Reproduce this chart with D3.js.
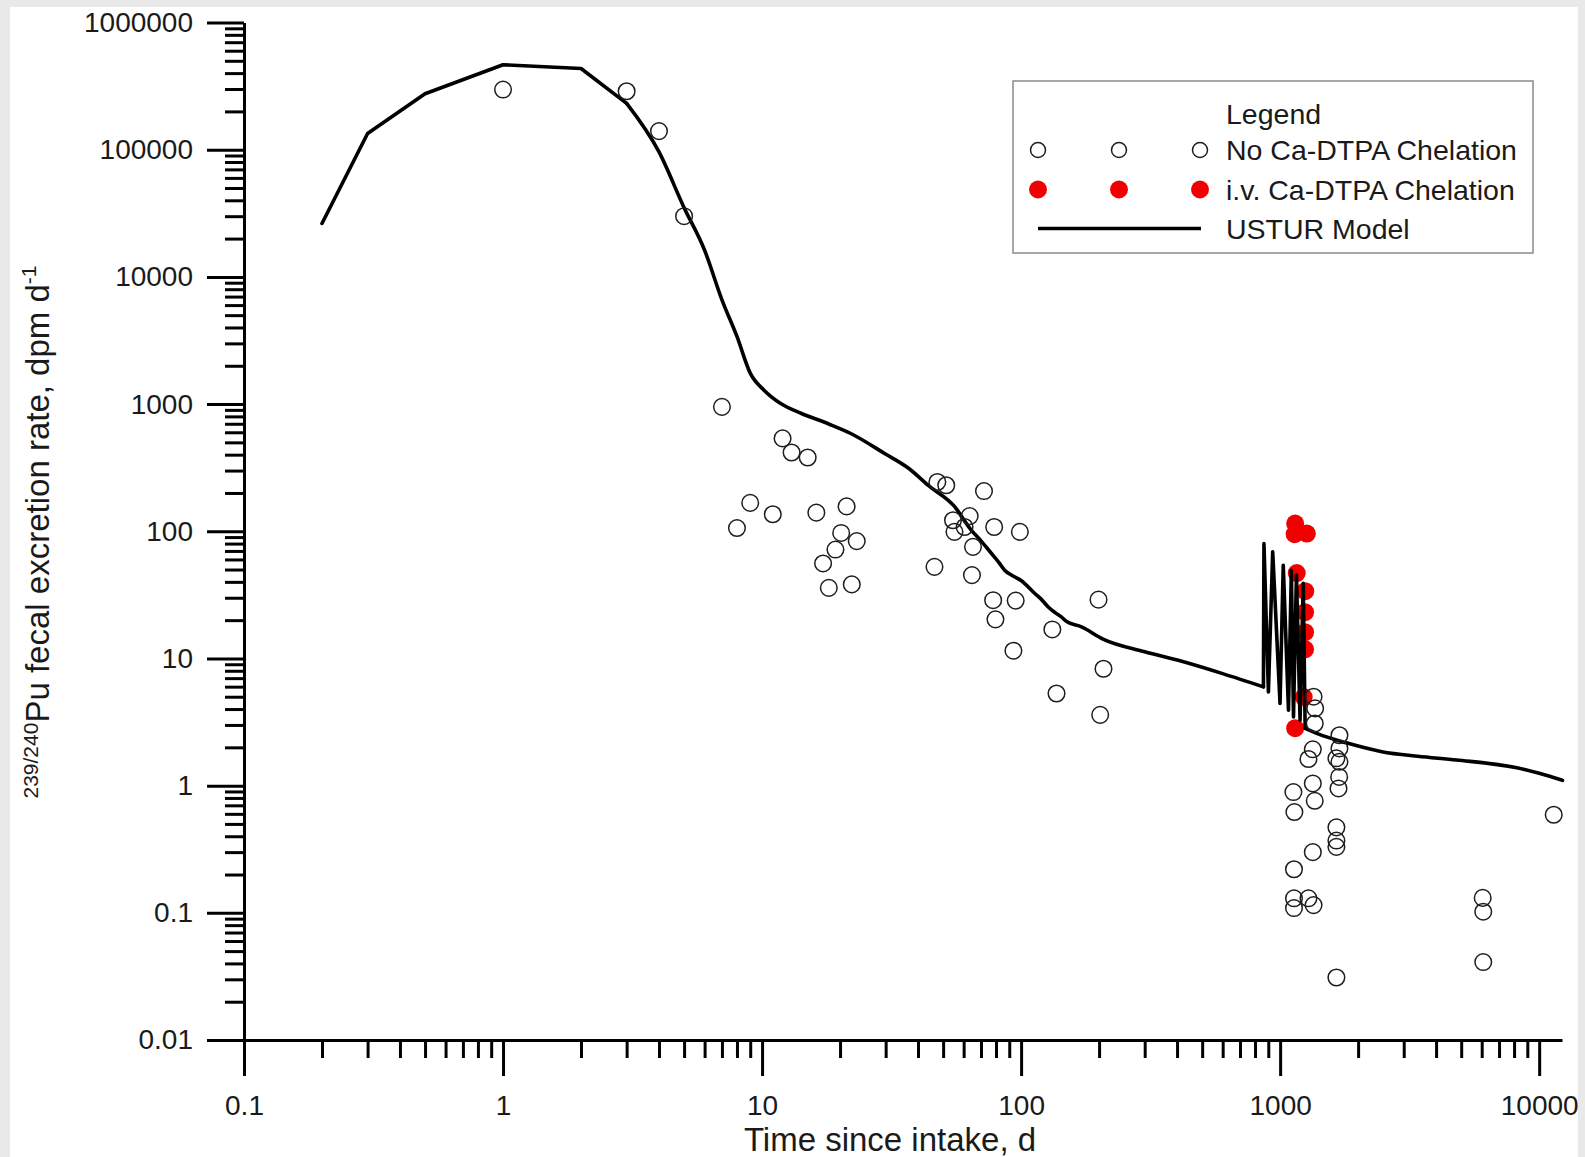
<!DOCTYPE html>
<html><head><meta charset="utf-8">
<script src="https://cdn.jsdelivr.net/npm/d3@7"></script>
<style>
html,body{margin:0;padding:0;background:#e9e9e9;}
svg{display:block;}
text{font-family:"Liberation Sans",Arial,Helvetica,sans-serif;fill:#1a1a1a;}
</style></head><body>
<svg id="c" width="1585" height="1157"></svg>
<script>
// ---------- data ----------
const xMajorTicks = [0.1, 1, 10, 100, 1000, 10000];
const xTickLabels = ["0.1", "1", "10", "100", "1000", "10000"];
const yMajorTicks = [0.01, 0.1, 1, 10, 100, 1000, 10000, 100000, 1000000];
const yTickLabels = ["0.01", "0.1", "1", "10", "100", "1000", "10000", "100000", "1000000"];

const xTitle = "Time since intake, d";
const yTitleSup = "239/240";
const yTitleMain = "Pu fecal excretion rate, dpm d";
const yTitleExp = "-1";

const legendTitle = "Legend";
const legendLabels = ["No Ca-DTPA Chelation", "i.v. Ca-DTPA Chelation", "USTUR Model"];

// No Ca-DTPA chelation (open circles)
const noChelT = [1, 3, 4, 5, 7, 8, 9, 11, 12, 13, 15, 16.2, 17.2, 18.1, 19.2, 20.2, 21.2, 22.2, 23.2,
  46.3, 47.5, 51.4, 54.6, 55.3, 60.5, 63.3, 64.6, 65.2, 71.9, 78, 78.7, 79.6, 93.4, 95.3, 98.9,
  132, 137, 199, 208, 202,
  1346, 1365, 1360, 1694, 1694, 1337, 1286, 1649, 1694, 1690, 1680, 1337, 1360, 1125, 1135,
  1649, 1649, 1649, 1337, 1131, 1131, 1286, 1131, 1346, 1649,
  6053, 6083, 6083, 11380];
const noChelV = [2.97e5, 2.88e5, 1.40e5, 3.0e4, 951, 106, 167, 136, 537, 416, 380, 140, 55.8, 35.9, 71.8, 97, 157, 38.2, 83.7,
  52.5, 244, 230, 122, 98.9, 108, 131.5, 45.2, 75.4, 207, 28.7, 108, 20.3, 11.5, 28.5, 98.9,
  16.9, 5.3, 29, 8.3, 3.6,
  5.0, 4.05, 3.08, 2.49, 1.96, 1.93, 1.62, 1.64, 1.54, 1.17, 0.95, 1.04, 0.76, 0.89, 0.62,
  0.47, 0.37, 0.33, 0.30, 0.22, 0.13, 0.13, 0.109, 0.115, 0.031,
  0.131, 0.102, 0.041, 0.59];

// i.v. Ca-DTPA chelation (red filled)
const chelT = [1143, 1138, 1268, 1159, 1250, 1248, 1248, 1248, 1233, 1143];
const chelV = [115, 94.9, 95.8, 46.9, 33.8, 23.1, 16.1, 11.8, 4.97, 2.83];

// USTUR model curve: early rise, smooth decline, chelation spikes, late tail
const modelEarlyT = [0.2, 0.3, 0.5, 1, 2, 3];
const modelEarlyV = [2.63e4, 1.34e5, 2.75e5, 4.65e5, 4.35e5, 2.31e5];
const modelDeclineT = [3, 4, 5, 6, 7, 8, 9, 10.2, 11.8, 14.2, 18, 22, 29.7, 37, 43.7, 55.4, 64.2, 70, 76.8, 82, 86.4, 92, 100, 113, 120, 127, 135, 143, 150, 171, 207, 300, 417, 600, 862];
const modelDeclineV = [2.31e5, 9.6e4, 3.5e4, 1.62e4, 6.6e3, 3.4e3, 1.75e3, 1.28e3, 1.01e3, 843, 700, 587, 409, 310, 230, 156, 102, 84, 67, 57, 49.4, 45, 41, 32.4, 29, 25.5, 23, 21.2, 19.5, 17.7, 14.2, 11.3, 9.5, 7.6, 5.98];
const modelSpikeT = [862, 866, 901, 936, 999, 1028, 1077, 1105, 1126, 1156, 1194, 1228, 1249];
const modelSpikeV = [5.98, 80.2, 5.46, 68.9, 4.43, 54.1, 3.92, 49.4, 3.47, 45.2, 3.27, 38.9, 2.82];
const modelTailT = [1249, 1400, 1800, 2470, 3400, 4800, 8200, 10000, 12300];
const modelTailV = [2.82, 2.55, 2.17, 1.85, 1.70, 1.59, 1.38, 1.25, 1.1];

// ---------- drawing ----------
const svg = d3.select("#c");
svg.append("rect").attr("x", 10).attr("y", 7).attr("width", 1568).attr("height", 1150).attr("fill", "#ffffff");

const x = d3.scaleLog().domain([0.1, 12250]).range([244, 1562]);
const y = d3.scaleLog().domain([0.01, 1000000]).range([1040, 22.5]);

function minors(majors) {
  const out = [];
  majors.slice(0, -1).forEach(m => { for (let k = 2; k <= 9; k++) out.push(m * k); });
  return out;
}
const xMinor = minors(xMajorTicks).filter(v => v < x.domain()[1]);
const yMinor = minors(yMajorTicks);

const axStroke = 3;
svg.append("g").attr("transform", `translate(0,${y(0.01)})`)
  .call(d3.axisBottom(x).tickValues(xMinor).tickSize(18).tickSizeOuter(0).tickFormat(""))
  .call(g => g.select(".domain").remove());
svg.append("g").attr("transform", `translate(${x(0.1)},0)`)
  .call(d3.axisLeft(y).tickValues(yMinor).tickSize(19).tickSizeOuter(0).tickFormat(""))
  .call(g => g.select(".domain").remove());
const gx = svg.append("g").attr("transform", `translate(0,${y(0.01)})`)
  .call(d3.axisBottom(x).tickValues(xMajorTicks).tickSize(36).tickSizeOuter(0)
    .tickFormat((d, i) => xTickLabels[i]).tickPadding(19));
const gy = svg.append("g").attr("transform", `translate(${x(0.1)},0)`)
  .call(d3.axisLeft(y).tickValues(yMajorTicks).tickSize(37).tickSizeOuter(0)
    .tickFormat((d, i) => yTickLabels[i]).tickPadding(14));

svg.selectAll(".tick line").attr("stroke", "#000").attr("stroke-width", axStroke);
svg.selectAll(".domain").attr("stroke", "#000").attr("stroke-width", axStroke);
svg.selectAll(".tick text").attr("fill", "#1a1a1a").attr("font-size", 28)
  .attr("font-family", "'Liberation Sans', Arial, sans-serif");
gx.selectAll(".tick text").attr("dy", "0.72em");

// axis titles
svg.append("text").attr("x", 890).attr("y", 1151).attr("text-anchor", "middle")
  .attr("font-size", 33).text(xTitle);

const yt = svg.append("text").attr("transform", "translate(49,532) rotate(-90)")
  .attr("text-anchor", "middle").attr("font-size", 33);
yt.append("tspan").attr("font-size", 21).attr("dy", -11).text(yTitleSup);
yt.append("tspan").attr("dy", 11).text(yTitleMain);
yt.append("tspan").attr("font-size", 21).attr("dy", -13).text(yTitleExp);

// red chelation points (under the line)
const chel = chelT.map((t, i) => ({t, v: chelV[i]}));
svg.append("g").selectAll("circle").data(chel).join("circle")
  .attr("cx", d => x(d.t)).attr("cy", d => y(d.v)).attr("r", 9)
  .attr("fill", "#f00000");

// model line
const lineLin = d3.line().x(d => x(d.t)).y(d => y(d.v));
const lineSmooth = d3.line().x(d => x(d.t)).y(d => y(d.v)).curve(d3.curveMonotoneX);
const segs = [
  [modelEarlyT, modelEarlyV, lineLin],
  [modelDeclineT, modelDeclineV, lineSmooth],
  [modelSpikeT, modelSpikeV, lineLin],
  [modelTailT, modelTailV, lineSmooth]
];
const gm = svg.append("g");
segs.forEach(([T, V, gen]) => {
  gm.append("path").datum(T.map((t, i) => ({t, v: V[i]})))
    .attr("d", gen).attr("fill", "none").attr("stroke", "#000").attr("stroke-width", 3.6)
    .attr("stroke-linejoin", "round").attr("stroke-linecap", "round");
});

// open circles
const noChel = noChelT.map((t, i) => ({t, v: noChelV[i]}));
svg.append("g").selectAll("circle").data(noChel).join("circle")
  .attr("cx", d => x(d.t)).attr("cy", d => y(d.v)).attr("r", 8.3)
  .attr("fill", "none").attr("stroke", "#1e1e1e").attr("stroke-width", 1.5);

// legend
const lg = svg.append("g");
lg.append("rect").attr("x", 1013).attr("y", 81).attr("width", 520).attr("height", 172)
  .attr("fill", "#fff").attr("stroke", "#8a8a8a").attr("stroke-width", 1.5);
lg.append("text").attr("x", 1226).attr("y", 124).attr("font-size", 28.5).text(legendTitle);
const symX = [1038, 1119, 1200];
const rowY = [150, 189.5, 228.5];
symX.forEach(sx => {
  lg.append("circle").attr("cx", sx).attr("cy", rowY[0]).attr("r", 7.5)
    .attr("fill", "none").attr("stroke", "#1e1e1e").attr("stroke-width", 1.5);
  lg.append("circle").attr("cx", sx).attr("cy", rowY[1]).attr("r", 9).attr("fill", "#f00000");
});
lg.append("line").attr("x1", 1038).attr("x2", 1201).attr("y1", rowY[2]).attr("y2", rowY[2])
  .attr("stroke", "#000").attr("stroke-width", 3.4);
legendLabels.forEach((s, i) => {
  lg.append("text").attr("x", 1226).attr("y", rowY[i]).attr("dy", "0.36em")
    .attr("font-size", 28.5).text(s);
});
</script>
</body></html>
